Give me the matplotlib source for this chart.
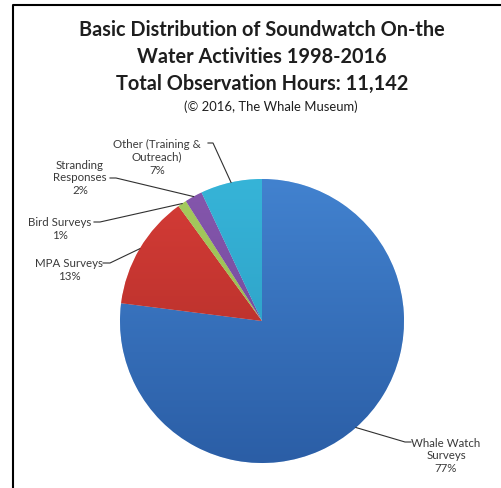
import numpy as np
import matplotlib.pyplot as plt
from matplotlib.lines import Line2D
from matplotlib.colors import LinearSegmentedColormap

W, H = 501, 489

labels = ['Whale Watch\nSurveys', 'MPA Surveys', 'Bird Surveys',
          'Stranding\nResponses', 'Other (Training &\nOutreach)']
shares = [77, 13, 1, 2, 7]
# top / bottom colour of each slice (Excel style shading)
top_colors = ['#4282cf', '#d63c37', '#a6cc5e', '#8557ad', '#36b4d8']
bot_colors = ['#2b5ea6', '#a82b25', '#8fb04c', '#6c4494', '#2a97bd']

# label centre (px), line start (px), knee (px)
label_pos = [(446, 456), (69, 270), (60, 229), (80, 178), (157, 157)]
line_start = [(411, 443), (103, 264), (94, 223), (110, 179), (208, 144)]
knees = [(405, 443), (110, 264), (100, 223), (116, 179), (213, 144)]


def px(x, y):
    return x / W, 1 - y / H


plt.rcParams['font.family'] = ['Lato', 'DejaVu Sans']
fig = plt.figure(figsize=(W / 100, H / 100), dpi=100)

cx, cy, r = 262, 322, 142
ax = fig.add_axes([(cx - r) / W, (H - cy - r) / H, 2 * r / W, 2 * r / H])
wedges, _ = ax.pie(shares, startangle=90, counterclock=False, radius=1,
                   colors=top_colors, wedgeprops=dict(linewidth=0.4, edgecolor='white'))
ax.set_aspect('equal')
ax.axis('off')

grad = np.linspace(1, 0, 256).reshape(-1, 1)
for w, c1, c2 in zip(wedges, top_colors, bot_colors):
    cmap = LinearSegmentedColormap.from_list('g', [c2, c1])
    im = ax.imshow(grad, cmap=cmap, extent=(-1, 1, -1, 1), aspect='auto',
                   origin='upper', zorder=w.get_zorder() + 0.1)
    im.set_clip_path(w)
ax.set_xlim(-1.0, 1.0)
ax.set_ylim(-1.0, 1.0)

# labels and leader lines
inv = fig.transFigure.inverted()
for w, lab, share, lp, ls, kn in zip(wedges, labels, shares, label_pos, line_start, knees):
    mid = np.deg2rad((w.theta1 + w.theta2) / 2)
    edge = inv.transform(ax.transData.transform((np.cos(mid), np.sin(mid))))
    fig.text(*px(*lp), f'{lab}\n{share}%', ha='center', va='center',
             fontsize=8.3, color='#3a3a3a', linespacing=1.22)
    p0, p1 = px(*ls), px(*kn)
    fig.add_artist(Line2D([p0[0], p1[0], edge[0]], [p0[1], p1[1], edge[1]],
                          transform=fig.transFigure, color='#303030', lw=0.8))

title_lines = ['Basic Distribution of Soundwatch On-the',
               'Water Activities 1998-2016',
               'Total Observation Hours: 11,142']
for i, t in enumerate(title_lines):
    fig.text(*px(262, 30 + 27 * i), t, ha='center', va='center',
             fontsize=14.3, fontweight='bold', color='#1e1e1e')
fig.text(*px(271, 107), '(\u00a9 2016, The Whale Museum)', ha='center',
         va='center', fontsize=9.4, color='#1e1e1e')

# frame (only the left and top edges are inside the crop)
fig.add_artist(Line2D([13 / W, 13 / W, 1], [0, 1 - 6 / H, 1 - 6 / H],
                      transform=fig.transFigure, color='black', lw=1.5))

fig.savefig('out.png', dpi=100)
